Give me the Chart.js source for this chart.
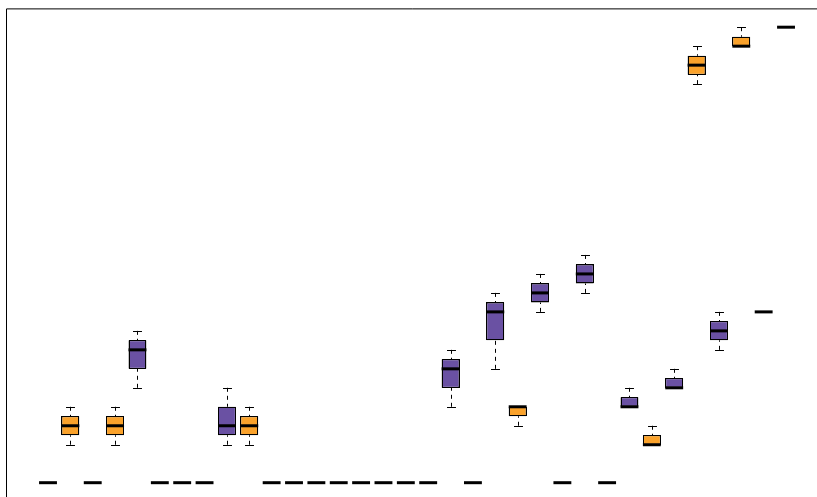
<!DOCTYPE html>
<html>
<head>
<meta charset="utf-8">
<title>Box plots</title>
<script src="https://cdn.jsdelivr.net/npm/chart.js@4/dist/chart.umd.min.js"></script>
<style>
  html, body { margin: 0; padding: 0; background: #ffffff; overflow: hidden; }
  #wrap { position: absolute; left: 0; top: 0; width: 817px; height: 497px; }
</style>
</head>
<body>
<div id="wrap"><canvas id="chart" width="817" height="497"></canvas></div>
<script>
// Box positions along the x axis (one box per slot, groups alternate)
const positions = [1,2,3,4,5,6,7,8,9,10,11,12,13,14,15,16,17,18,19,20,21,22,23,24,25,26,27,28,29,30,31,32,33,34];
const groups    = ['A','B','A','B','A','B','A','B','A','B','A','B','A','B','A','B','A','B','A','B','A','B','A','B','A','B','A','B','A','B','A','B','A','B'];

// Five-number summaries per box
const whiskerLow  = [0,4,0,4,10,0,0,0,4,4,0,0,0,0,0,0,0,0,8,0,12,6,18,0,20,0,8,4,10,42,14,46,18,48];
const q1          = [0,5,0,5,12,0,0,0,5,5,0,0,0,0,0,0,0,0,10,0,15,7,19,0,21,0,8,4,10,43,15,46,18,48];
const medians     = [0,6,0,6,14,0,0,0,6,6,0,0,0,0,0,0,0,0,12,0,18,8,20,0,22,0,8,4,10,44,16,46,18,48];
const q3          = [0,7,0,7,15,0,0,0,8,7,0,0,0,0,0,0,0,0,13,0,19,8,21,0,23,0,9,5,11,45,17,47,18,48];
const whiskerHigh = [0,8,0,8,16,0,0,0,10,8,0,0,0,0,0,0,0,0,14,0,20,8,22,0,24,0,10,6,12,46,18,48,18,48];

const groupColors = { A: '#6A51A3', B: '#FAA22B' };

// Box outlines, whiskers, staples and median bars drawn on top of the boxes
const boxExtras = {
  id: 'boxExtras',
  afterDatasetsDraw(chart) {
    const { ctx, scales: { x, y } } = chart;
    const meta = chart.getDatasetMeta(0);
    ctx.save();
    positions.forEach((p, i) => {
      const bar = meta.data[i];
      const half = bar.width / 2;
      const cx = Math.round(x.getPixelForValue(p)) + 0.5;
      ctx.strokeStyle = '#000000';
      ctx.lineWidth = 1;
      ctx.lineCap = 'butt';
      // crisp outline around the box
      if (q1[i] !== q3[i]) {
        const l = Math.round(bar.x - half) + 0.5;
        const r = Math.round(bar.x + half) - 0.5;
        const t = Math.round(y.getPixelForValue(q3[i])) + 0.5;
        const b = Math.round(y.getPixelForValue(q1[i])) - 0.5;
        ctx.strokeRect(l, t, r - l, b - t);
      }
      // whiskers from the extreme toward the box edge
      ctx.setLineDash([4, 4]);
      [[whiskerLow[i], q1[i]], [whiskerHigh[i], q3[i]]].forEach(([end, edge]) => {
        if (end === edge) return;
        ctx.beginPath();
        ctx.moveTo(cx, y.getPixelForValue(end));
        ctx.lineTo(cx, y.getPixelForValue(edge));
        ctx.stroke();
      });
      ctx.setLineDash([]);
      // staples
      [whiskerLow[i], whiskerHigh[i]].forEach((v, k) => {
        const edge = k === 0 ? q1[i] : q3[i];
        if (v === edge) return;
        const py = Math.round(y.getPixelForValue(v)) + 0.5;
        ctx.beginPath();
        ctx.moveTo(cx - half / 2, py);
        ctx.lineTo(cx + half / 2, py);
        ctx.stroke();
      });
      // median
      const my = y.getPixelForValue(medians[i]);
      ctx.lineWidth = 3;
      ctx.beginPath();
      ctx.moveTo(bar.x - half, my);
      ctx.lineTo(bar.x + half, my);
      ctx.stroke();
    });
    // plot frame (top and left edges fall inside the canvas)
    const a = chart.chartArea;
    ctx.lineWidth = 1;
    ctx.strokeStyle = '#000000';
    ctx.beginPath();
    ctx.moveTo(a.left + 0.5, a.bottom + 1);
    ctx.lineTo(a.left + 0.5, a.top + 0.4);
    ctx.lineTo(a.right + 1, a.top + 0.4);
    ctx.stroke();
    ctx.restore();
  }
};

new Chart(document.getElementById('chart'), {
  type: 'bar',
  data: {
    datasets: [{
      data: positions.map((p, i) => ({ x: p, y: [q1[i], q3[i]] })),
      backgroundColor: groups.map(g => groupColors[g]),
      borderColor: '#000000',
      borderWidth: 1,
      borderSkipped: false,
      barPercentage: 1,
      categoryPercentage: 0.8
    }]
  },
  options: {
    responsive: false,
    animation: false,
    devicePixelRatio: 1,
    layout: { padding: { left: 6, top: 8.5, right: 0, bottom: 0 } },
    plugins: { legend: { display: false }, tooltip: { enabled: false } },
    scales: {
      x: { type: 'linear', offset: false, min: -0.878, max: 35.385, display: false },
      y: { type: 'linear', min: -1.507, max: 49.97, display: false }
    }
  },
  plugins: [boxExtras]
});
</script>
</body>
</html>
